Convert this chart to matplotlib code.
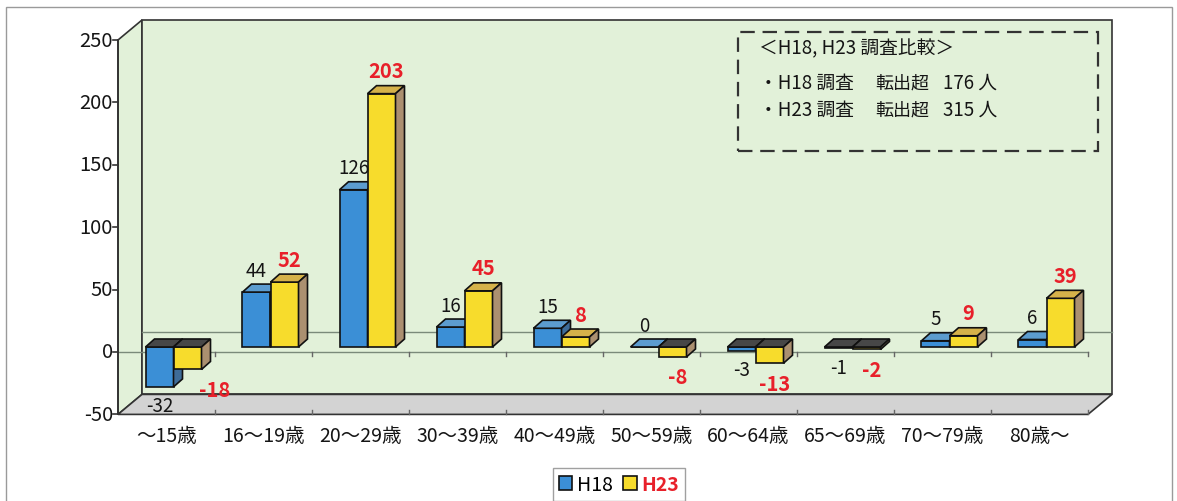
import matplotlib
matplotlib.use('Agg')
import matplotlib.pyplot as plt
from matplotlib.patches import Polygon, Rectangle, Patch

# ---------------- data ----------------
categories = ['～15歳', '16～19歳', '20～29歳', '30～39歳', '40～49歳',
              '50～59歳', '60～64歳', '65～69歳', '70～79歳', '80歳～']
h18 = [-32, 44, 126, 16, 15, 0, -3, -1, 5, 6]
h23 = [-18, 52, 203, 45, 8, -8, -13, -2, 9, 39]
series_names = ['H18', 'H23']
yticks = [-50, 0, 50, 100, 150, 200, 250]
note_title = '＜H18, H23 調査比較＞'
note_rows = [('・H18 調査', '転出超', '176 人'),
             ('・H23 調査', '転出超', '315 人')]

# ---------------- layout (pixels) ----------------
W, H = 1177, 502
X0, CW = 118.0, 97.0        # front-left of plot, category width
Y0, K = 353.0, 1.248        # front zero line (from top), px per unit
DEPTH_X, DEPTH_Y = 24.0, 20.0
BAR_OFF_X, BAR_OFF_Y = 7.0, 5.0
BAR_D_X, BAR_D_Y = 9.0, 8.0
BAR_W = 28.0
h23_nudge_px = [22, 0, 0, 0, 0, 0, 0, 0, 0, 0]

plt.rcParams['font.family'] = ['Noto Sans CJK JP', 'DejaVu Sans']

fig = plt.figure(figsize=(W / 100, H / 100), dpi=100)
ax = fig.add_axes([0, 0, 1, 1])
ax.set_xlim(-X0 / CW, (W - X0) / CW)
ax.set_ylim((Y0 - H) / K, Y0 / K)
ax.axis('off')


def dxu(px):
    return px / CW


def dyu(px):
    return px / K


def X(px):
    return (px - X0) / CW


def V(py):
    return (Y0 - py) / K


n = len(categories)
ymin, ymax = yticks[0], yticks[-1]
dX, dY = dxu(DEPTH_X), dyu(DEPTH_Y)

wall_c = '#e2f1d9'
edge_c = '#333333'
txt_c = '#151515'
# side wall
ax.add_patch(Polygon([(0, ymin), (dX, ymin + dY), (dX, ymax + dY), (0, ymax)],
                     closed=True, fc=wall_c, ec=edge_c, lw=1.2, zorder=1))
# back wall
ax.add_patch(Polygon([(dX, ymin + dY), (n + dX, ymin + dY), (n + dX, ymax + dY), (dX, ymax + dY)],
                     closed=True, fc=wall_c, ec=edge_c, lw=1.2, zorder=1))
# floor
ax.add_patch(Polygon([(0, ymin), (n, ymin), (n + dX, ymin + dY), (dX, ymin + dY)],
                     closed=True, fc='#d3d3d3', ec=edge_c, lw=1.2, zorder=1))
# back wall zero gridline
ax.plot([dX, n + dX], [dY, dY], color='#7a8a7a', lw=1.0, zorder=2)
# front zero axis with ticks
ax.plot([0, n], [0, 0], color='#7a8a7a', lw=1.0, zorder=2)
for i in range(1, n + 1):
    ax.plot([i, i], [0, -dyu(4)], color='#666666', lw=1.0, zorder=2)
    ax.plot([i, i], [ymin, ymin + dyu(4)], color='#666666', lw=1.0, zorder=2)
# y axis
ax.plot([0, 0], [ymin, ymax], color=edge_c, lw=1.3, zorder=3)
for t in yticks:
    ax.plot([-dxu(5), 0], [t, t], color=edge_c, lw=1.2, zorder=3)
    ax.text(X(113), t, f'{t}', ha='right', va='center', fontsize=14.5, color=txt_c)

# category labels
for i, c in enumerate(categories):
    ax.text(i + 0.5, V(437), c, ha='center', va='center', fontsize=14, color=txt_c)

# ---------------- bars ----------------
colors = {
    'H18': dict(front='#3b8fd6', top='#5c9ccf', side='#3e6c98'),
    'H23': dict(front='#f7dc2c', top='#d5b24a', side='#ab9070'),
}
bw = dxu(BAR_W)
oy = dyu(BAR_OFF_Y)
ddx, ddy = dxu(BAR_D_X), dyu(BAR_D_Y)

for i in range(n):
    c = i + 0.5 + dxu(BAR_OFF_X)
    for s, (name, vals) in enumerate(zip(series_names, [h18, h23])):
        v = vals[i]
        xl = c - bw if s == 0 else c
        col = colors[name]
        z = 4 + i * 3 + s
        ax.bar(xl, v, width=bw, bottom=oy, align='edge', color=col['front'],
               edgecolor='#111111', linewidth=1.2, zorder=z)
        top = oy + max(v, 0)
        low = oy + min(v, 0)
        tc = col['top'] if v >= 0 else '#474747'
        ax.add_patch(Polygon([(xl, top), (xl + bw, top), (xl + bw + ddx, top + ddy), (xl + ddx, top + ddy)],
                             closed=True, fc=tc, ec='#111111', lw=1.2, zorder=z))
        ax.add_patch(Polygon([(xl + bw, low), (xl + bw, top), (xl + bw + ddx, top + ddy), (xl + bw + ddx, low + ddy)],
                             closed=True, fc=col['side'], ec='#111111', lw=1.2, zorder=z))

        # data labels
        if name == 'H18':
            lx = xl + bw / 2
            if v >= 0:
                ly = v + oy + dyu(22)
            else:
                ly = v + oy - dyu(19)
            ax.text(lx, ly, f'{v}', ha='center', va='center', fontsize=13.5,
                    color=txt_c, zorder=50)
        else:
            lx = xl + bw / 2 + dxu(5 + h23_nudge_px[i])
            if v >= 0:
                ly = v + oy + dyu(23)
            else:
                ly = v + oy - dyu(20)
            ax.text(lx, ly, f'{v}', ha='center', va='center', fontsize=14.5,
                    fontweight='bold', color='#e8202a', zorder=50)

# ---------------- note box ----------------
ax.add_patch(Rectangle((X(738), V(152)), X(1098) - X(738), V(33) - V(152),
                       fill=False, ec='#333333', lw=1.6, linestyle=(0, (6.5, 3.5)), zorder=60))
ax.text(X(759), V(49), note_title, ha='left', va='center', fontsize=13.5, color=txt_c, zorder=61)
for r, (a, b, cc) in enumerate(note_rows):
    yy = V(83 + r * 27)
    ax.text(X(759), yy, a, ha='left', va='center', fontsize=13.5, color=txt_c, zorder=61)
    ax.text(X(875), yy, b, ha='left', va='center', fontsize=13, color=txt_c, zorder=61)
    ax.text(X(943), yy, cc, ha='left', va='center', fontsize=13.5, color=txt_c, zorder=61)

# ---------------- outer border ----------------
ax.add_patch(Rectangle((6 / W, -0.05), (1172 - 6) / W, (H - 8) / H + 0.05,
                       transform=ax.transAxes, fill=False, ec='#9a9a9a', lw=1.0, zorder=0))

# ---------------- legend ----------------
handles = [Patch(fc=colors[nm]['front'], ec='#111111', lw=1.2, label=nm) for nm in series_names]
leg = ax.legend(handles=handles, loc='upper left', bbox_to_anchor=(553 / W, 1 - 469 / H),
                ncol=2, fontsize=14, frameon=True, fancybox=False, handlelength=0.7,
                handleheight=0.7, handletextpad=0.25, columnspacing=0.5, borderpad=0.3,
                borderaxespad=0)
leg.get_frame().set_edgecolor('#888888')
leg.get_frame().set_linewidth(1.0)
texts = leg.get_texts()
texts[1].set_color('#e8202a')
texts[1].set_fontweight('bold')

fig.savefig('out.png', dpi=100, facecolor='white')
